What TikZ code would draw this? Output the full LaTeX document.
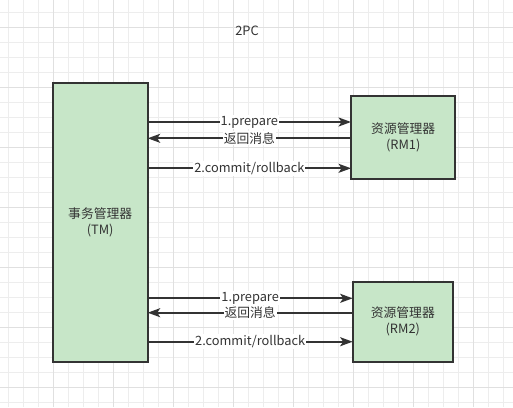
\documentclass[tikz,border=0pt]{standalone}
\usepackage{fontspec}
\setmainfont{Noto Sans CJK SC}
\usetikzlibrary{arrows.meta}
\definecolor{boxfill}{HTML}{C7E6C8}
\definecolor{ink}{HTML}{333333}
\definecolor{gridminor}{HTML}{EDEDED}
\definecolor{gridmajor}{HTML}{E0E0E0}
\tikzset{
  box/.style={draw=ink, line width=2pt, fill=boxfill, text=ink, align=center,
    font=\fontsize{12.8}{16}\selectfont, inner sep=0pt, outer sep=0pt},
  arr/.style={draw=ink, line width=1.7pt, -{Stealth[length=12.5pt,width=9pt,inset=3pt]}},
  lbl/.style={fill=white, text=ink, inner sep=1pt, font=\fontsize{12.8}{15}\selectfont}
}
\begin{document}
\begin{tikzpicture}[x=1pt,y=-1pt]
\useasboundingbox (0,0) rectangle (513,407);
\fill[white] (0,0) rectangle (513,407);
\foreach \k in {0,...,33} \draw[gridminor, line width=1pt] (8.3+15*\k,0) -- (8.3+15*\k,407);
\foreach \k in {0,...,26} \draw[gridminor, line width=1pt] (0,12.3+15*\k) -- (513,12.3+15*\k);
\foreach \k in {0,...,7} \draw[gridmajor, line width=1pt] (53.3+60*\k,0) -- (53.3+60*\k,407);
\foreach \k in {0,...,6} \draw[gridmajor, line width=1pt] (0,27.3+60*\k) -- (513,27.3+60*\k);

\node[text=ink, font=\fontsize{12.8}{15}\selectfont] (title) at (247,30.5) {2PC};

\node[box, minimum width=95pt, minimum height=279.3pt] (TM) at (100.2,222.3) {事务管理器\\(TM)};
\node[box, minimum width=104.3pt, minimum height=83.6pt] (RM1) at (403.2,137.5) {资源管理器\\(RM1)};
\node[box, minimum width=100.3pt, minimum height=79.7pt] (RM2) at (402.8,321.8) {资源管理器\\(RM2)};

\draw[arr] (TM.east |- 0,122) -- node[lbl] {1.prepare} (RM1.west |- 0,122);
\draw[arr] (RM1.west |- 0,138.3) -- node[lbl] {返回消息} (TM.east |- 0,138.3);
\draw[arr] (TM.east |- 0,168.3) -- node[lbl] {2.commit/rollback} (RM1.west |- 0,168.3);

\draw[arr] (TM.east |- 0,298.3) -- node[lbl] {1.prepare} (RM2.west |- 0,298.3);
\draw[arr] (RM2.west |- 0,312.7) -- node[lbl] {返回消息} (TM.east |- 0,312.7);
\draw[arr] (TM.east |- 0,341.7) -- node[lbl] {2.commit/rollback} (RM2.west |- 0,341.7);
\end{tikzpicture}
\end{document}
